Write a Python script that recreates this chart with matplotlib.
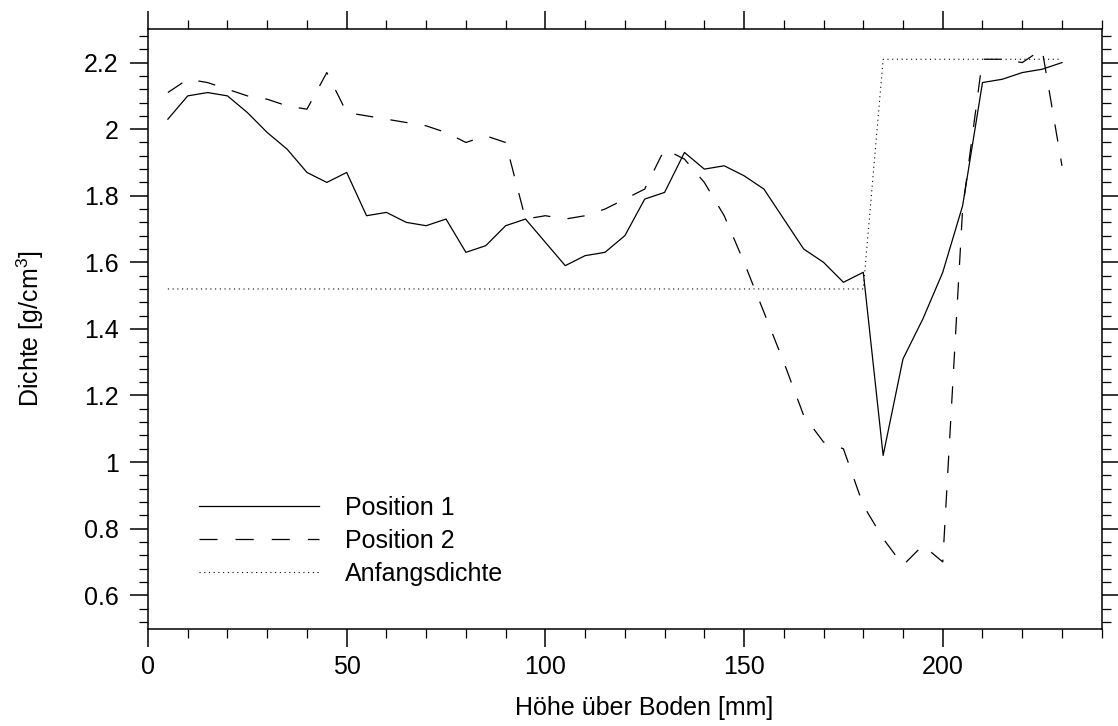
"""Dichteprofil: Position 1 / Position 2 / Anfangsdichte
"""
import matplotlib
matplotlib.use('Agg')
import matplotlib.pyplot as plt
from matplotlib.ticker import MultipleLocator, FuncFormatter
from matplotlib.lines import Line2D

plt.rcParams['font.family'] = ['Liberation Sans', 'DejaVu Sans']
plt.rcParams['mathtext.default'] = 'regular'
plt.rcParams['lines.scale_dashes'] = False

# Messhoehen [mm]
hoehe = [5, 10, 15, 20, 25, 30, 35, 40, 45, 50,
         55, 60, 65, 70, 75, 80, 85, 90, 95, 100,
         105, 110, 115, 120, 125, 130, 135, 140, 145, 150,
         155, 160, 165, 170, 175, 180, 185, 190, 195, 200,
         205, 210, 215, 220, 225, 230]

# Dichte [g/cm3]
pos1 = [2.03, 2.10, 2.11, 2.10, 2.05, 1.99, 1.94, 1.87, 1.84, 1.87,
        1.74, 1.75, 1.72, 1.71, 1.73, 1.63, 1.65, 1.71, 1.73, 1.66,
        1.59, 1.62, 1.63, 1.68, 1.79, 1.81, 1.93, 1.88, 1.89, 1.86,
        1.82, 1.73, 1.64, 1.60, 1.54, 1.57, 1.02, 1.31, 1.43, 1.57,
        1.77, 2.14, 2.15, 2.17, 2.18, 2.20]

pos2 = [2.11, 2.15, 2.14, 2.12, 2.10, 2.09, 2.07, 2.06, 2.17, 2.05,
        2.04, 2.03, 2.02, 2.01, 1.99, 1.96, 1.98, 1.96, 1.73, 1.74,
        1.73, 1.74, 1.76, 1.79, 1.82, 1.94, 1.91, 1.84, 1.74, 1.60,
        1.45, 1.30, 1.14, 1.06, 1.04, 0.87, 0.77, 0.69, 0.75, 0.70,
        1.76, 2.21, 2.21, 2.20, 2.24, 1.89]

# Anfangsdichte (stufenfoermig)
anfang_x = [5, 180, 185, 230]
anfang = [1.52, 1.52, 2.21, 2.21]

labels = ['Position 1', 'Position 2', 'Anfangsdichte']

dash = (0, (12.5, 12.5))
dot = (0, (0.8, 2.6))
fs = 18

fig = plt.figure(figsize=(11.18, 7.26), dpi=100)
ax = fig.add_axes([148 / 1118, 1 - 628.5 / 726, 953.7 / 1118, 599.2 / 726])

ax.plot(hoehe, pos1, color='black', lw=0.9, linestyle='-')
ax.plot(hoehe, pos2, color='black', lw=0.9, linestyle=dash)
ax.plot(anfang_x, anfang, color='black', lw=0.8, linestyle=dot)

ax.set_xlim(0, 240)
ax.set_ylim(0.5, 2.3)

ax.xaxis.set_major_locator(MultipleLocator(50))
ax.xaxis.set_minor_locator(MultipleLocator(10))
ax.yaxis.set_major_locator(MultipleLocator(0.2))
ax.yaxis.set_minor_locator(MultipleLocator(0.04))
ax.yaxis.set_major_formatter(FuncFormatter(lambda v, p: f'{v:g}'))
ax.xaxis.set_major_formatter(FuncFormatter(lambda v, p: f'{v:g}'))

ax.tick_params(which='both', direction='out', top=True, right=True,
               labelsize=fs, color='black')
ax.tick_params(which='major', length=13, width=1.1)
ax.tick_params(which='minor', length=6.5, width=0.9)
ax.tick_params(axis='x', which='major', pad=6)
ax.tick_params(axis='y', which='major', pad=8)
for s in ax.spines.values():
    s.set_linewidth(1.1)

fig.text(644 / 1118, 1 - 708 / 726, 'Höhe über Boden [mm]', fontsize=fs,
         ha='center', va='center')
fig.text(30 / 1118, 1 - 329 / 726, 'Dichte [g/cm$^3$]', fontsize=fs,
         rotation=90, ha='center', va='center')

handles = [Line2D([], [], color='black', lw=0.9, linestyle='-'),
           Line2D([], [], color='black', lw=0.9, linestyle=(0, (13, 13))),
           Line2D([], [], color='black', lw=0.8, linestyle=dot)]
ax.legend(handles, labels, loc='center left', bbox_to_anchor=(0.0535, 0.146),
          frameon=False, fontsize=fs, handlelength=4.8, handletextpad=1.05,
          labelspacing=0.36, borderpad=0, borderaxespad=0)

plt.savefig('out.png', dpi=100)
